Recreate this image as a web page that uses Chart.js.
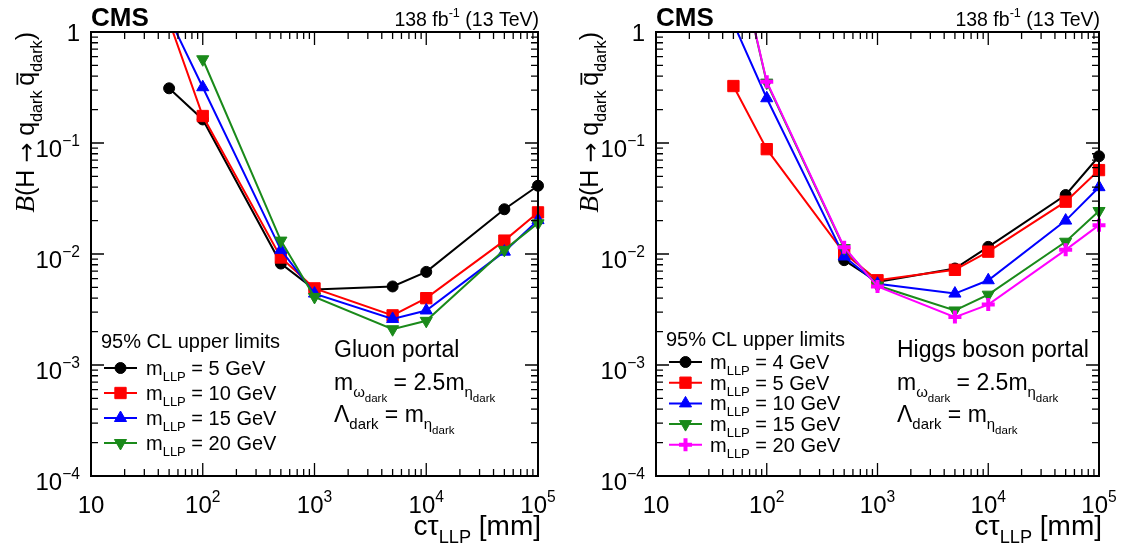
<!DOCTYPE html>
<html>
<head>
<meta charset="utf-8">
<script src="https://cdn.jsdelivr.net/npm/chart.js@4"></script>
<style>
  html, body { margin: 0; padding: 0; background: #fff; }
  #wrap { position: relative; width: 1127px; height: 547px; }
  canvas { position: absolute; top: 0; }
</style>
</head>
<body>
<div id="wrap">
  <canvas id="gluonChart" width="563" height="547" style="left:0"></canvas>
  <canvas id="higgsChart" width="564" height="547" style="left:563px"></canvas>
</div>
<script>
// c*tau values [mm] where the limits were evaluated
const ctau = [50, 100, 500, 1000, 5000, 10000, 50000, 100000];

// Gluon portal, 95% CL upper limits on B(H -> q q)
const gluonMasses = ['5', '10', '15', '20'];
const gluon5  = [0.311, 0.163, 0.0082, 0.0048, 0.0051, 0.0069, 0.0253, 0.0412];
const gluon10 = [1.25, 0.175, 0.0093, 0.0049, 0.0028, 0.0040, 0.0132, 0.0237];
const gluon15 = [1.35, 0.318, 0.0109, 0.0044, 0.0026, 0.0031, 0.0105, 0.0202];
const gluon20 = [null, 0.568, 0.0132, 0.0041, 0.0021, 0.0025, 0.0109, 0.0189];

// Higgs boson portal
const higgsMasses = ['4', '5', '10', '15', '20'];
const higgs4  = [null, null, 0.0088, 0.0056, 0.0074, 0.0116, 0.034, 0.076];
const higgs5  = [0.326, 0.088, 0.0102, 0.0058, 0.0072, 0.0105, 0.0296, 0.057];
const higgs10 = [1.2, 0.253, 0.0095, 0.0054, 0.0044, 0.0058, 0.020, 0.040];
const higgs15 = [7, 0.35, 0.0113, 0.0052, 0.0031, 0.0043, 0.0129, 0.0244];
const higgs20 = [7, 0.357, 0.0115, 0.0051, 0.0027, 0.0035, 0.0109, 0.0182];

// axis labels: [value, base, exponent]
const xTickLabels = [[10, '10', ''], [100, '10', '2'], [1000, '10', '3'], [10000, '10', '4'], [100000, '10', '5']];
const yTickLabels = [[1, '1', ''], [0.1, '10', '\u22121'], [0.01, '10', '\u22122'], [0.001, '10', '\u22123'], [0.0001, '10', '\u22124']];

const F = '"Liberation Sans", Arial, Helvetica, sans-serif';

const black   = {color: '#000000', point: 'circle',   radius: 5.5, rot: 0,   bw: 1};
const red     = {color: '#ff0000', point: 'rect',     radius: 8,   rot: 0,   bw: 1};
const blue    = {color: '#0000ff', point: 'triangle', radius: 7,   rot: 0,   bw: 1};
const green   = {color: '#1a8a1a', point: 'triangle', radius: 7,   rot: 180, bw: 1};
const magenta = {color: '#ff00ff', point: 'cross',    radius: 6.5, rot: 0,   bw: 4};

// text with sub/superscripts: parts = [[text, kind], ...]
function drawRich(ctx, parts, size, x, y, align) {
    const spec = {n: [1, 0], sub: [0.65, 0.3], ssub: [0.5, 0.52], sup: [0.65, -0.45], bar: [1, 0], it: [1.1, 0], arrow: [0.95, 0]};
    const fontFor = (k, s) => {
        if (k === 'it') return `italic ${s}px "Liberation Serif", serif`;
        if (k === 'arrow') return `${s}px "DejaVu Sans", sans-serif`;
        return `${s}px ${F}`;
    };
    let total = 0;
    const items = parts.map(([t, k]) => {
        const s = size * spec[k][0];
        ctx.font = fontFor(k, s);
        const w = ctx.measureText(t).width;
        total += w;
        return {t, k, s, dy: spec[k][1] * size, w};
    });
    let cx = align === 'right' ? x - total : align === 'center' ? x - total / 2 : x;
    ctx.textAlign = 'left';
    ctx.textBaseline = 'alphabetic';
    for (const it of items) {
        ctx.font = fontFor(it.k, it.s);
        ctx.fillText(it.t, cx, y + it.dy);
        if (it.k === 'bar') {
            ctx.fillRect(cx + 1, y - size * 0.7, it.w - 2, Math.max(1.5, size * 0.07));
        }
        cx += it.w;
    }
}

function drawMarker(ctx, st, x, y) {
    ctx.fillStyle = st.color;
    ctx.strokeStyle = st.color;
    ctx.lineWidth = st.bw;
    Chart.helpers.drawPoint(ctx, {pointStyle: st.point, radius: st.radius, rotation: st.rot, borderWidth: st.bw}, x, y);
}

function makePanel(id, series, masses, lay, portal) {
    const datasets = series.map((s, i) => ({
        label: masses[i],
        data: ctau.map((c, k) => ({x: c, y: s.values[k]})),
        borderColor: s.st.color,
        backgroundColor: s.st.color,
        borderWidth: 2,
        pointStyle: s.st.point,
        pointRadius: s.st.radius,
        pointHoverRadius: s.st.radius,
        pointRotation: s.st.rot,
        pointBorderWidth: s.st.bw,
        pointBackgroundColor: s.st.color,
        pointBorderColor: s.st.color,
        order: series.length - i,
        clip: {left: 12, top: 0, right: 12, bottom: 12}
    }));

    const decor = {
        id: 'decor',
        afterDraw(chart) {
            const ctx = chart.ctx, a = chart.chartArea;
            const xs = chart.scales.x, ys = chart.scales.y;
            ctx.save();
            ctx.fillStyle = '#000';
            ctx.strokeStyle = '#000';

            // frame
            ctx.lineWidth = 2;
            ctx.strokeRect(a.left, a.top, a.right - a.left, a.bottom - a.top);

            // inward ticks on all sides
            ctx.lineWidth = 1.3;
            ctx.beginPath();
            for (let e = 1; e <= 4; e++) {
                for (let m = 1; m <= 9; m++) {
                    const px = xs.getPixelForValue(m * Math.pow(10, e));
                    const len = m === 1 ? 13 : 7;
                    ctx.moveTo(px, a.bottom); ctx.lineTo(px, a.bottom - len);
                    ctx.moveTo(px, a.top); ctx.lineTo(px, a.top + len);
                }
            }
            for (let e = -4; e <= -1; e++) {
                for (let m = 1; m <= 9; m++) {
                    const py = ys.getPixelForValue(m * Math.pow(10, e));
                    const len = m === 1 ? 13 : 7;
                    ctx.moveTo(a.left, py); ctx.lineTo(a.left + len, py);
                    ctx.moveTo(a.right, py); ctx.lineTo(a.right - len, py);
                }
            }
            ctx.stroke();

            // tick labels
            for (const [v, base, exp] of xTickLabels) {
                drawRich(ctx, [[base, 'n'], [exp, 'sup']], 24, xs.getPixelForValue(v), a.bottom + 37, 'center');
            }
            for (const [v, base, exp] of yTickLabels) {
                const py = ys.getPixelForValue(v);
                drawRich(ctx, [[base, 'n'], [exp, 'sup']], 24, a.left - 11, py + (exp ? 14 : 9), 'right');
            }

            // axis titles
            drawRich(ctx, [['c', 'n'], ['\u03c4', 'n'], ['LLP', 'sub'], [' [mm]', 'n']], 28, lay.xTitle[0], lay.xTitle[1], 'right');
            ctx.save();
            ctx.translate(lay.yTitle[0], lay.yTitle[1]);
            ctx.rotate(-Math.PI / 2);
            drawRich(ctx, [['B', 'it'], ['(H ', 'n'], ['\u2192', 'arrow'], [' q', 'n'], ['dark ', 'sub'], ['q', 'bar'], ['dark', 'sub'], [')', 'n']], 25, 0, 0, 'right');
            ctx.restore();

            // CMS label and luminosity
            ctx.font = `bold 26px ${F}`;
            ctx.textAlign = 'left';
            ctx.fillText('CMS', lay.cms[0], lay.cms[1]);
            drawRich(ctx, [['138 fb', 'n'], ['-1', 'sup'], [' (13 TeV)', 'n']], 19.5, lay.lumi[0], lay.lumi[1], 'right');

            // legend
            ctx.font = `20px ${F}`;
            ctx.fillText('95% CL upper limits', lay.legHead[0], lay.legHead[1]);
            series.forEach((s, i) => {
                const ry = lay.legRow0 + i * lay.legStep;
                ctx.strokeStyle = s.st.color;
                ctx.lineWidth = 2;
                ctx.beginPath();
                ctx.moveTo(lay.legLine[0], ry); ctx.lineTo(lay.legLine[1], ry);
                ctx.stroke();
                drawMarker(ctx, s.st, (lay.legLine[0] + lay.legLine[1]) / 2, ry);
                ctx.fillStyle = '#000';
                drawRich(ctx, [['m', 'n'], ['LLP', 'sub'], [` = ${masses[i]} GeV`, 'n']], 20, lay.legText, ry + 7, 'left');
            });

            // model text
            ctx.fillStyle = '#000';
            drawRich(ctx, [[portal, 'n']], 23, lay.portal[0], lay.portal[1], 'left');
            drawRich(ctx, [['m', 'n'], ['\u03c9', 'sub'], ['dark', 'ssub'], [' = 2.5m', 'n'], ['\u03b7', 'sub'], ['dark', 'ssub']], 23, lay.portal[0], lay.portal[1] + 33, 'left');
            drawRich(ctx, [['\u039b', 'n'], ['dark', 'sub'], [' = m', 'n'], ['\u03b7', 'sub'], ['dark', 'ssub']], 23, lay.portal[0], lay.portal[1] + 65, 'left');
            ctx.restore();
        }
    };

    return new Chart(document.getElementById(id), {
        type: 'line',
        data: {datasets: datasets},
        options: {
            responsive: false,
            animation: false,
            devicePixelRatio: 1,
            layout: {padding: lay.pad},
            scales: {
                x: {type: 'logarithmic', min: 10, max: 100000, display: false},
                y: {type: 'logarithmic', min: 0.0001, max: 1, display: false}
            },
            plugins: {legend: {display: false}, tooltip: {enabled: false}}
        },
        plugins: [decor]
    });
}

makePanel('gluonChart',
    [{values: gluon5, st: black}, {values: gluon10, st: red}, {values: gluon15, st: blue}, {values: gluon20, st: green}],
    gluonMasses,
    {
        pad: {left: 91, right: 25, top: 32, bottom: 71},
        cms: [91, 26], lumi: [539, 26],
        xTitle: [541, 535], yTitle: [34, 32],
        legHead: [101, 348], legRow0: 368, legStep: 25, legLine: [104, 137], legText: 146,
        portal: [334, 357]
    },
    'Gluon portal');

makePanel('higgsChart',
    [{values: higgs4, st: black}, {values: higgs5, st: red}, {values: higgs10, st: blue}, {values: higgs15, st: green}, {values: higgs20, st: magenta}],
    higgsMasses,
    {
        pad: {left: 93, right: 28, top: 32, bottom: 71},
        cms: [93, 26], lumi: [537, 26],
        xTitle: [539, 535], yTitle: [35, 32],
        legHead: [103, 346], legRow0: 362, legStep: 20.7, legLine: [106, 139], legText: 147,
        portal: [334, 357]
    },
    'Higgs boson portal');
</script>
</body>
</html>
